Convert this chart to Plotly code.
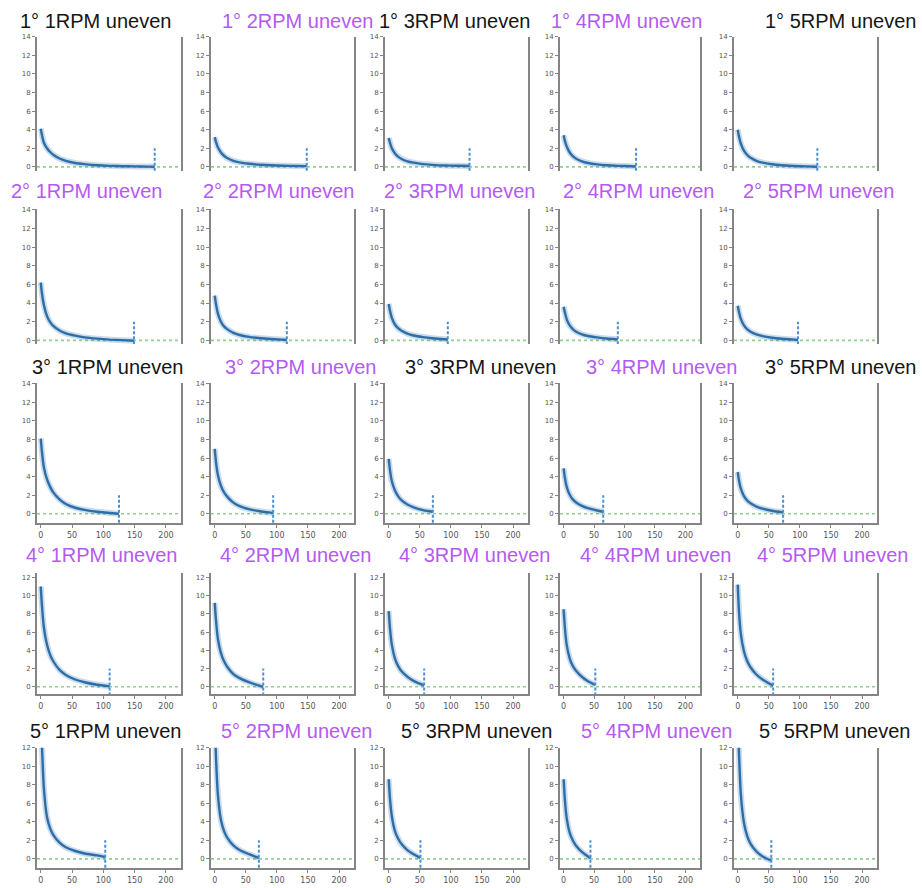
import plotly.graph_objects as go

# ---------------- data ----------------
x_grid = [0, 2, 5, 10, 15, 20, 30, 40, 55, 70, 90, 110, 130, 150, 170]
row_labels = ["1°", "2°", "3°", "4°", "5°"]
rpm_labels = ["1RPM", "2RPM", "3RPM", "4RPM", "5RPM"]
x_end = [
    [182, 148, 130, 119, 128],
    [149, 116, 95, 89, 97],
    [125, 94, 71, 65, 73],
    [110, 78, 57, 52, 57],
    [103, 71, 51, 44, 54],
]
y_row1 = [
    [4.1, 3.4, 2.6, 2.0, 1.6, 1.3, 0.9, 0.65, 0.42, 0.3, 0.18, 0.11, 0.07, 0.05, 0.03, 0.02],
    [3.2, 2.7, 2.1, 1.55, 1.2, 0.95, 0.65, 0.48, 0.33, 0.24, 0.17, 0.12, 0.1, 0.08],
    [3.1, 2.6, 2.0, 1.45, 1.1, 0.88, 0.6, 0.45, 0.3, 0.22, 0.15, 0.12, 0.1],
    [3.4, 2.8, 2.2, 1.55, 1.15, 0.9, 0.6, 0.42, 0.27, 0.18, 0.11, 0.07, 0.05],
    [4.0, 3.3, 2.5, 1.75, 1.3, 1.0, 0.65, 0.45, 0.28, 0.17, 0.1, 0.05, 0.02],
]
y_row2 = [
    [6.2, 5.0, 3.8, 2.6, 1.95, 1.55, 1.05, 0.75, 0.5, 0.32, 0.18, 0.08, 0.02, -0.05],
    [4.8, 3.9, 2.9, 2.0, 1.5, 1.2, 0.8, 0.57, 0.37, 0.25, 0.14, 0.07, 0.05],
    [3.9, 3.2, 2.4, 1.7, 1.3, 1.05, 0.72, 0.52, 0.35, 0.23, 0.12, 0.1],
    [3.6, 3.0, 2.25, 1.6, 1.2, 0.95, 0.65, 0.47, 0.32, 0.2, 0.1],
    [3.7, 3.05, 2.3, 1.6, 1.2, 0.95, 0.63, 0.45, 0.28, 0.17, 0.08, 0.05],
]
y_row3 = [
    [8.1, 6.6, 5.0, 3.7, 2.9, 2.3, 1.55, 1.05, 0.65, 0.42, 0.22, 0.08, 0.0],
    [7.0, 5.6, 4.2, 3.0, 2.3, 1.85, 1.2, 0.82, 0.5, 0.3, 0.12, 0.1],
    [5.9, 4.7, 3.5, 2.5, 1.9, 1.5, 1.0, 0.7, 0.4, 0.22, 0.2],
    [4.9, 3.9, 2.9, 2.05, 1.55, 1.25, 0.85, 0.6, 0.35, 0.22],
    [4.5, 3.6, 2.7, 1.9, 1.45, 1.15, 0.78, 0.55, 0.32, 0.18, 0.15],
]
y_row4 = [
    [11.0, 8.8, 6.5, 4.6, 3.5, 2.8, 1.85, 1.3, 0.8, 0.5, 0.22, 0.05],
    [9.2, 7.3, 5.3, 3.7, 2.8, 2.2, 1.4, 0.95, 0.5, 0.15, 0.0],
    [8.3, 6.4, 4.6, 3.1, 2.3, 1.75, 1.1, 0.65, 0.22, 0.18],
    [8.5, 6.5, 4.6, 3.1, 2.3, 1.8, 1.1, 0.6, 0.2],
    [11.2, 8.3, 5.8, 3.9, 2.85, 2.2, 1.35, 0.8, 0.2, 0.15],
]
y_row5 = [
    [16.0, 12.0, 7.6, 4.5, 3.3, 2.6, 1.75, 1.25, 0.85, 0.58, 0.37, 0.2],
    [15.0, 11.0, 7.0, 4.2, 3.0, 2.3, 1.45, 0.95, 0.5, 0.12, 0.1],
    [8.6, 6.5, 4.6, 3.0, 2.2, 1.65, 0.95, 0.5, 0.1],
    [8.6, 6.4, 4.4, 2.8, 2.0, 1.45, 0.75, 0.25, 0.05],
    [16.0, 11.5, 7.0, 3.9, 2.5, 1.7, 0.8, 0.25, -0.2],
]
title_purple = [
    [0, 1, 0, 1, 0],
    [1, 1, 1, 1, 1],
    [0, 1, 0, 1, 0],
    [1, 1, 1, 1, 1],
    [0, 1, 0, 1, 0],
]
y_ticks = [0, 2, 4, 6, 8, 10, 12, 14]
x_ticks = [0, 50, 100, 150, 200]
zero_line_x = [-6, 224]
end_mark_y = [-1.5, 2.0]

# ---------------- layout geometry ----------------
W, H = 922, 888
col_px = [(37, 181), (211, 354), (385, 528), (560, 700), (734, 877)]
row_px = [(33, 168), (206, 342), (381, 522), (572, 694), (748, 869)]
y_ranges = [[-0.45, 14.0], [-0.4, 14.1], [-1.0, 14.1], [-0.8, 12.5], [-1.0, 12.0]]
x_range = [-6, 224]
show_x = [False, False, True, True, True]
title_cx = [
    [95, 297, 454, 626, 840],
    [86, 278, 459, 638, 818],
    [107, 300, 481, 661, 840],
    [101, 295, 474, 655, 832],
    [105, 296, 476, 656, 834],
]
title_cy = [17, 188, 365, 554, 731]

BLACK = "#151515"
PURPLE = "#b45af2"
LINE = "#2e6ea6"
BAND = "rgba(70,130,190,0.28)"
DASH = "#4b8fd0"
GREEN = "#8fd08f"
SPINE = "#858585"

all_y = [y_row1, y_row2, y_row3, y_row4, y_row5]

fig = go.Figure()
layout = dict(
    width=W, height=H, margin=dict(l=0, r=0, t=0, b=0),
    paper_bgcolor="white", plot_bgcolor="white", showlegend=False,
    annotations=[],
)

n = 0
for r in range(5):
    for c in range(5):
        n += 1
        xa = "x" if n == 1 else f"x{n}"
        ya = "y" if n == 1 else f"y{n}"
        xe = x_end[r][c]
        xs = [g for g in x_grid if g < xe] + [xe]
        ys = all_y[r][c]
        fig.add_trace(go.Scatter(x=zero_line_x, y=[0, 0], mode="lines",
                                 line=dict(color=GREEN, width=1.6, dash="dot"),
                                 xaxis=xa, yaxis=ya, hoverinfo="skip"))
        fig.add_trace(go.Scatter(x=xs, y=ys, mode="lines",
                                 line=dict(color=BAND, width=6, shape="spline", smoothing=0.6),
                                 xaxis=xa, yaxis=ya, hoverinfo="skip"))
        fig.add_trace(go.Scatter(x=xs, y=ys, mode="lines",
                                 line=dict(color=LINE, width=2.4, shape="spline", smoothing=0.6),
                                 xaxis=xa, yaxis=ya))
        fig.add_trace(go.Scatter(x=[xe, xe], y=end_mark_y, mode="lines",
                                 line=dict(color=DASH, width=2, dash="3px,2px"),
                                 xaxis=xa, yaxis=ya, hoverinfo="skip"))

        x0, x1 = col_px[c]
        t0, b0 = row_px[r]
        xkey = "xaxis" if n == 1 else f"xaxis{n}"
        ykey = "yaxis" if n == 1 else f"yaxis{n}"
        layout[xkey] = dict(
            domain=[x0 / W, x1 / W], anchor=ya, range=x_range,
            showgrid=False, zeroline=False,
            showline=show_x[r], linecolor=SPINE, linewidth=2,
            ticks="outside" if show_x[r] else "", ticklen=3, tickcolor=SPINE,
            tickvals=x_ticks, showticklabels=show_x[r],
            tickfont=dict(size=8, color="#555", family="DejaVu Sans"),
        )
        layout[ykey] = dict(
            domain=[1 - b0 / H, 1 - t0 / H], anchor=xa, range=y_ranges[r],
            showgrid=False, zeroline=False,
            showline=True, mirror=True, linecolor=SPINE, linewidth=2,
            ticks="outside", ticklen=3, tickcolor=SPINE,
            tickvals=y_ticks,
            tickfont=dict(size=7, color="#555", family="DejaVu Sans"),
        )
        layout["annotations"].append(dict(
            text=f"{row_labels[r]} {rpm_labels[c]} uneven",
            xref="paper", yref="paper",
            x=title_cx[r][c] / W, y=1 - title_cy[r] / H,
            xanchor="center", yanchor="middle", showarrow=False,
            font=dict(size=20, family="Liberation Sans, Arial, sans-serif",
                      color=PURPLE if title_purple[r][c] else BLACK),
        ))

fig.update_layout(**layout)
fig.write_html("out.html",
               config={"displayModeBar": False},
               post_script="document.body.style.margin='0';document.body.style.overflow='hidden';")
